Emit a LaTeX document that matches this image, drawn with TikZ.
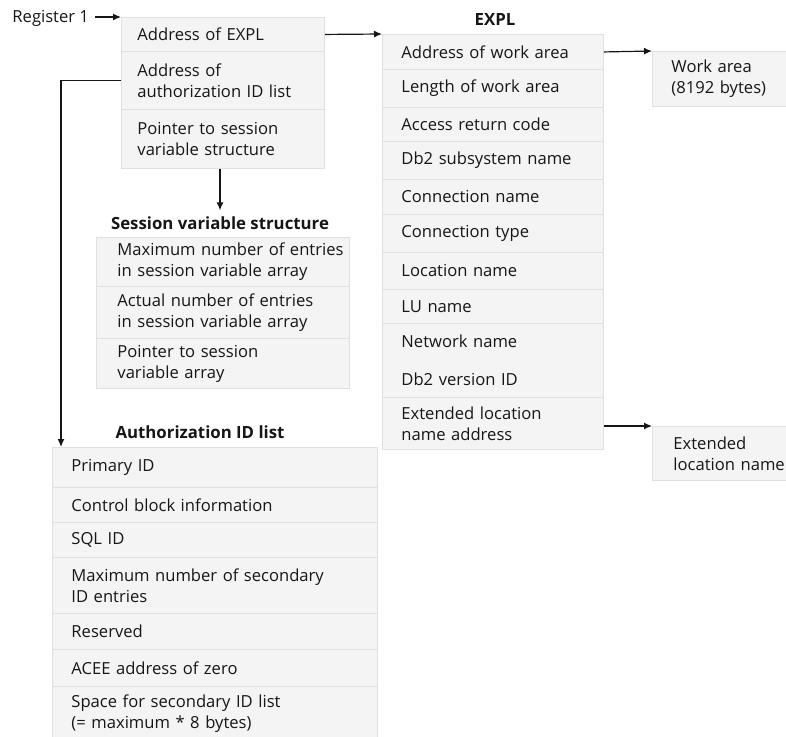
\documentclass[tikz,border=0pt]{standalone}
\usepackage{fontspec}
\setmainfont{Open Sans}
\usetikzlibrary{arrows.meta,calc}
\definecolor{cellfill}{HTML}{F4F4F4}
\definecolor{cellline}{HTML}{E0E0E0}
\definecolor{ink}{HTML}{161616}
\tikzset{
  cell/.style={draw=cellline, fill=cellfill, line width=0.9pt, anchor=north west,
    inner xsep=19pt, inner ysep=0pt, align=left, text=ink,
    font=\fontsize{16.6}{21}\selectfont},
  lbl/.style={text=ink, inner sep=0pt, font=\fontsize{16.6}{21}\selectfont},
  title/.style={text=ink, inner sep=0pt, font=\fontsize{16.8}{21}\selectfont\bfseries},
  arr/.style={draw=ink, line width=1.2pt, -{Latex[length=8pt,width=7pt]}},
}
\newcommand{\cellbox}[6]{% name, x, y, width, height, text
  \node[cell, minimum width=#4pt, minimum height=#5pt, text width=#4pt-38pt] (#1) at (#2,#3) {#6};}
\begin{document}
\begin{tikzpicture}[x=1pt,y=-1pt]
\useasboundingbox (0,0) rectangle (786,736);
\begin{scope}
\clip (0,0) rectangle (786,736);
% top register block
\node[cell, inner xsep=16pt, minimum width=203pt, minimum height=34pt, text width=171pt] (ra) at (121,17) {Address of EXPL};
\node[cell, inner xsep=16pt, minimum width=203pt, minimum height=58pt, text width=171pt] (rb) at (121,51) {Address of\\authorization ID list};
\node[cell, inner xsep=16pt, minimum width=203pt, minimum height=59pt, text width=171pt] (rc) at (121,109) {Pointer to session\\variable structure};
\node[lbl, anchor=east, outer xsep=6pt] (reg) at (95,18) {Register 1};
% EXPL
\node[title] (expltitle) at (495,20) {EXPL};
\cellbox{e1}{382}{34}{221}{35}{Address of work area}
\cellbox{e2}{382}{69}{221}{38}{Length of work area}
\cellbox{e3}{382}{107}{221}{34}{Access return code}
\cellbox{e4}{382}{141}{221}{38}{Db2 subsystem name}
\cellbox{e5}{382}{179}{221}{35}{Connection name}
\cellbox{e6}{382}{214}{221}{38}{Connection type}
\cellbox{e7}{382}{252}{221}{37}{Location name}
\cellbox{e8}{382}{289}{221}{34}{LU name}
\cellbox{e9}{382}{323}{221}{74}{Network name\\[17pt]Db2 version ID}
\cellbox{e10}{382}{397}{221}{52}{Extended location\\name address}
% right boxes
\cellbox{wa}{652}{51}{160}{55}{Work area\\(8192 bytes)}
\node[cell, inner xsep=21pt, minimum width=160pt, minimum height=54pt, text width=118pt] (ext) at (652,426) {Extended\\location name};
% session variable structure
\node[title] (sesstitle) at (220,223) {Session variable structure};
\node[cell, inner xsep=21pt, minimum width=253pt, minimum height=49pt, text width=211pt] (s1) at (96,237) {\mbox{Maximum number of entries}\\in session variable array};
\node[cell, inner xsep=21pt, minimum width=253pt, minimum height=52pt, text width=211pt] (s2) at (96,286) {Actual number of entries\\in session variable array};
\node[cell, inner xsep=21pt, minimum width=253pt, minimum height=50pt, text width=211pt] (s3) at (96,338) {Pointer to session\\variable array};
% authorization ID list
\node[title] (authtitle) at (200,432) {Authorization ID list};
\cellbox{a1}{52}{447}{325}{40}{Primary ID}
\cellbox{a2}{52}{487}{325}{35}{Control block information}
\cellbox{a3}{52}{522}{325}{35}{SQL ID}
\cellbox{a4}{52}{557}{325}{56}{Maximum number of secondary\\ID entries}
\cellbox{a5}{52}{613}{325}{36}{Reserved}
\cellbox{a6}{52}{649}{325}{37}{ACEE address of zero}
\cellbox{a7}{52}{686}{325}{54}{Space for secondary ID list\\(= maximum * 8 bytes)}
% connectors
\coordinate (authin) at ($(a1.north west)+(9,0)$);
\draw[arr] (reg.east |- ra.north west) -- (ra.north west);
\draw[arr] (ra.east) -- (e1.north west);
\draw[arr] (e1.east) -- (wa.north west);
\draw[arr] (e10.east |- ext.north west) -- (ext.north west);
\draw[arr] (rc.south -| sesstitle.north) -- ($(sesstitle.north)+(0,-6)$);
\draw[arr] (rb.west) -| (authin);
\end{scope}
\end{tikzpicture}
\end{document}
